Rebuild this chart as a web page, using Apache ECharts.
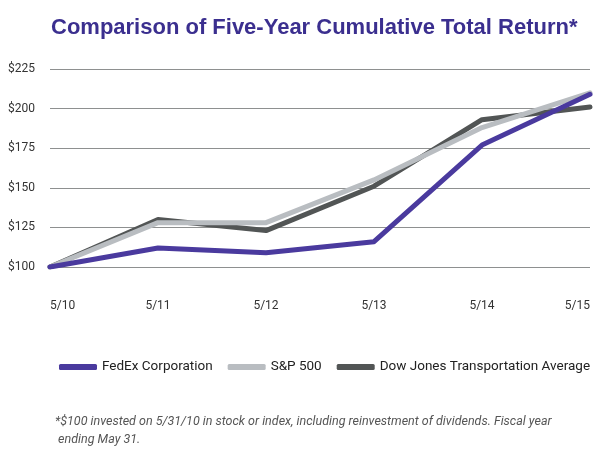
<!DOCTYPE html>
<html>
<head>
<meta charset="utf-8">
<script src="https://cdn.jsdelivr.net/npm/echarts@6/dist/echarts.min.js"></script>
<style>
html,body{margin:0;padding:0;background:#fff;}
#c{width:601px;height:458px;}
</style>
</head>
<body>
<div id="c"></div>
<script>
var categories = ['5/10', '5/11', '5/12', '5/13', '5/14', '5/15'];
var fedex = [100, 112, 109, 116, 177, 209];
var sp500 = [100, 128, 128, 155, 188, 210];
var dowJones = [100, 130, 123, 151, 193, 201];
var yTicks = {min: 100, max: 225, interval: 25};
var titleText = 'Comparison of Five-Year Cumulative Total Return*';
var footLine1 = '*$100 invested on 5/31/10 in stock or index, including reinvestment of dividends. Fiscal year';
var footLine2 = ' ending May 31.';

var narrow = 'Roboto, "Liberation Sans", sans-serif';
var chart = echarts.init(document.getElementById('c'));
chart.setOption({
  animation: false,
  backgroundColor: '#fff',
  title: {
    text: titleText,
    left: 46, top: 12,
    textStyle: {color: '#3b2f8f', fontSize: 22, fontWeight: 'bold', fontFamily: '"Liberation Sans", Arial, sans-serif'}
  },
  grid: {left: 50, right: 11, top: 69, bottom: 191},
  legend: {
    left: 54, top: 355, width: 560,
    itemWidth: 38, itemHeight: 6, itemGap: 15,
    icon: 'roundRect',
    textStyle: {fontSize: 13.5, color: '#222', fontFamily: narrow},
    data: ['FedEx Corporation', 'S&P 500', 'Dow Jones Transportation Average']
  },
  xAxis: {
    type: 'category', boundaryGap: false, data: categories,
    axisLine: {show: false}, axisTick: {show: false},
    axisLabel: {margin: 33, color: '#333', fontSize: 12, fontFamily: narrow, alignMinLabel: 'left', alignMaxLabel: 'right'},
    splitLine: {show: false}
  },
  yAxis: {
    type: 'value', min: yTicks.min, max: yTicks.max, interval: yTicks.interval,
    axisLine: {show: false}, axisTick: {show: false},
    axisLabel: {margin: 15, color: '#333', fontSize: 12, fontFamily: narrow, formatter: '${value}'},
    splitLine: {lineStyle: {color: '#8e9090', width: 1}}
  },
  series: [
    {name: 'Dow Jones Transportation Average', type: 'line', data: dowJones, symbol: 'none', z: 2,
     lineStyle: {color: '#525555', width: 5, cap: 'round', join: 'round'}, itemStyle: {color: '#525555'}},
    {name: 'S&P 500', type: 'line', data: sp500, symbol: 'none', z: 3,
     lineStyle: {color: '#b9bdc1', width: 5, cap: 'round', join: 'round'}, itemStyle: {color: '#b9bdc1'}},
    {name: 'FedEx Corporation', type: 'line', data: fedex, symbol: 'none', z: 4,
     lineStyle: {color: '#4a3a9e', width: 5, cap: 'round', join: 'round'}, itemStyle: {color: '#4a3a9e'}}
  ],
  graphic: [
    {type: 'text', left: 55, top: 415, style: {text: footLine1, fill: '#555', fontSize: 12.5, fontStyle: 'italic', fontFamily: narrow}},
    {type: 'text', left: 55, top: 433, style: {text: footLine2, fill: '#555', fontSize: 12.5, fontStyle: 'italic', fontFamily: narrow}}
  ]
});
</script>
</body>
</html>
